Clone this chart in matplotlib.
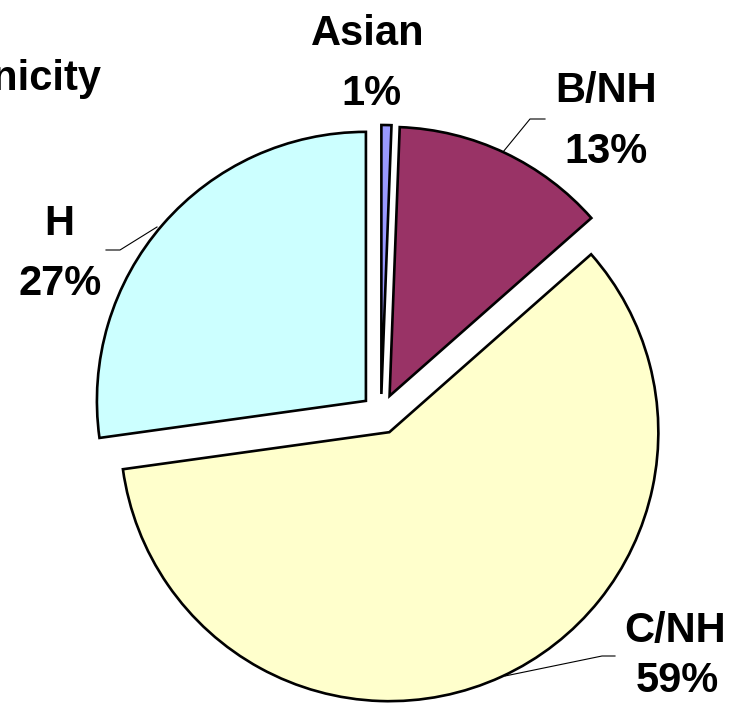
import matplotlib
matplotlib.use("Agg")
import matplotlib.pyplot as plt

# ethnicity shares (%), clockwise from 12 o'clock
groups = ["Asian", "B/NH", "C/NH", "H"]
shares = [0.6, 12.9, 59.3, 27.2]
colors = ["#9999FF", "#993366", "#FFFFCC", "#CCFFFF"]
title = "Ethnicity"

W, H_PX = 739, 707


def py(y):
    # pixel row (top-down) -> data y (bottom-up)
    return H_PX - y


fig = plt.figure(figsize=(W / 100, H_PX / 100), dpi=100)
ax = fig.add_axes([0, 0, 1, 1])

ax.pie(shares, colors=colors, startangle=90, counterclock=False,
       center=(381, py(414)), radius=269, explode=[20] * len(shares),
       wedgeprops=dict(edgecolor="black", linewidth=1.9))

ax.set_xlim(0, W); ax.set_ylim(0, H_PX); ax.set_aspect("equal"); ax.axis("off")

font = dict(family=["Liberation Sans", "DejaVu Sans"], weight="bold", fontsize=30, color="black")

# label anchors: (name x, name baseline, pct x, pct baseline) in pixels
label_pos = {
    "Asian": (368, 45, 371, 105),
    "B/NH": (606, 102, 606, 163),
    "C/NH": (675, 642, 677, 692),
    "H": (59, 235, 60, 295),
}
for g, s in zip(groups, shares):
    nx, ny, px_, pyy = label_pos[g]
    ax.text(nx, py(ny), g, ha="center", va="baseline", **font)
    ax.text(px_, py(pyy), f"{round(s):.0f}%", ha="center", va="baseline", **font)

# leader lines
leaders = [
    [(503, 152), (530, 119), (545, 119)],
    [(157, 227), (120, 250), (106, 250)],
    [(505, 676), (602, 656), (615, 656)],
]
for pts in leaders:
    ax.plot([p[0] for p in pts], [py(p[1]) for p in pts], "-", color="black", lw=0.8)

ax.text(101, py(90), title, ha="right", va="baseline", **font)

fig.savefig("out.png", dpi=100)
